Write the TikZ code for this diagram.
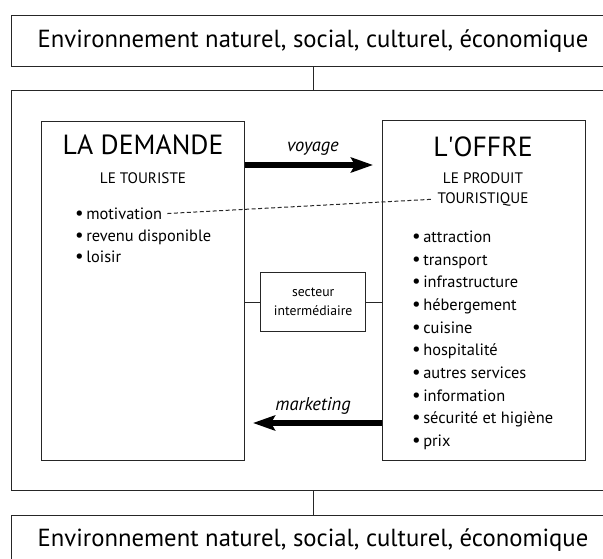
\documentclass[tikz,border=0pt]{standalone}
\usepackage{fontspec}
\setmainfont{PT Sans}
\usetikzlibrary{arrows.meta}

\tikzset{
  frame/.style={draw=black!85,line width=1pt,inner sep=0pt},
  link/.style={draw=black!85,line width=1pt},
  bigarrow/.style={line width=6pt,-{Stealth[length=22pt,width=15pt,inset=4pt]}},
  item/.style={anchor=base west,inner sep=0pt,font=\fontsize{16.4}{18}\selectfont},
  lbl/.style={anchor=base,inner sep=0pt,font=\fontsize{18.5}{20}\selectfont\itshape},
  envtext/.style={font=\fontsize{24.7}{28}\selectfont}
}
\newcommand{\puce}{{\fontsize{19}{18}\selectfont\textbullet}\hspace{2.5pt}}

\begin{document}
\begin{tikzpicture}[x=1pt,y=-1pt]
\useasboundingbox (0,0) rectangle (603,559);
\clip (0,0) rectangle (603,559);

% environnement
\node[frame,envtext,minimum width=602.6pt,minimum height=51pt] (envtop) at (313,41.2) {Environnement naturel, social, culturel, économique};
\node[frame,minimum width=602.6pt,minimum height=400pt] (main) at (313,290.7) {};
\node[frame,envtext,minimum width=602.6pt,minimum height=51pt] (envbot) at (313,540.5) {Environnement naturel, social, culturel, économique};
\draw[link] (envtop.south) -- (main.north);
\draw[link] (main.south) -- (envbot.north);

% demande / offre
\node[frame,minimum width=202.3pt,minimum height=338.3pt] (demande) at (142.85,290.85) {};
\node[frame,minimum width=203pt,minimum height=339pt] (offre) at (483.5,290.5) {};
\node[frame,minimum width=105pt,minimum height=59pt,align=center,font=\fontsize{13.7}{19}\selectfont] (secteur) at (313.2,302.2) {secteur\\intermédiaire};
\draw[link] (secteur.west) -- (secteur.west -| demande.east);
\draw[link] (secteur.east) -- (secteur.east -| offre.west);

\node[inner sep=0pt,font=\fontsize{27.7}{30}\selectfont] (demtitle) at (143,145) {LA DEMANDE};
\node[inner sep=0pt,font=\fontsize{15.2}{17}\selectfont] (touriste) at (143,178) {LE TOURISTE};
\node[inner sep=0pt,font=\fontsize{27.7}{30}\selectfont] (offtitle) at (483,147) {L\textquotesingle OFFRE};
\node[inner sep=0pt,font=\fontsize{15.2}{17}\selectfont] (produit) at (483,178) {LE PRODUIT};
\node[inner sep=0pt,font=\fontsize{15.2}{17}\selectfont] (touristique) at (483,199) {TOURISTIQUE};

\foreach \txt [count=\i] in {motivation,revenu disponible,loisir}
  \node[item] (dem\i) at (75,{219.5+21.5*(\i-1)}) {\puce\txt};
\foreach \txt [count=\i] in {attraction,transport,infrastructure,hébergement,cuisine,hospitalité,autres services,information,sécurité et higiène,prix}
  \node[item] (off\i) at (412,{242.5+22.67*(\i-1)}) {\puce\txt};

\draw[black!85,line width=1pt,dash pattern=on 4pt off 2.5pt,shorten <=5pt,shorten >=6pt] (dem1.east) -- (touristique.west);

% fleches
\coordinate (voyend) at (373,165);
\draw[bigarrow] (voyend -| demande.east) -- (voyend);
\node[lbl] (voylbl) at (313,152) {voyage};
\coordinate (mktend) at (253,423);
\draw[bigarrow] (mktend -| offre.west) -- (mktend);
\node[lbl] (mktlbl) at (313,410) {marketing};
\end{tikzpicture}
\end{document}
